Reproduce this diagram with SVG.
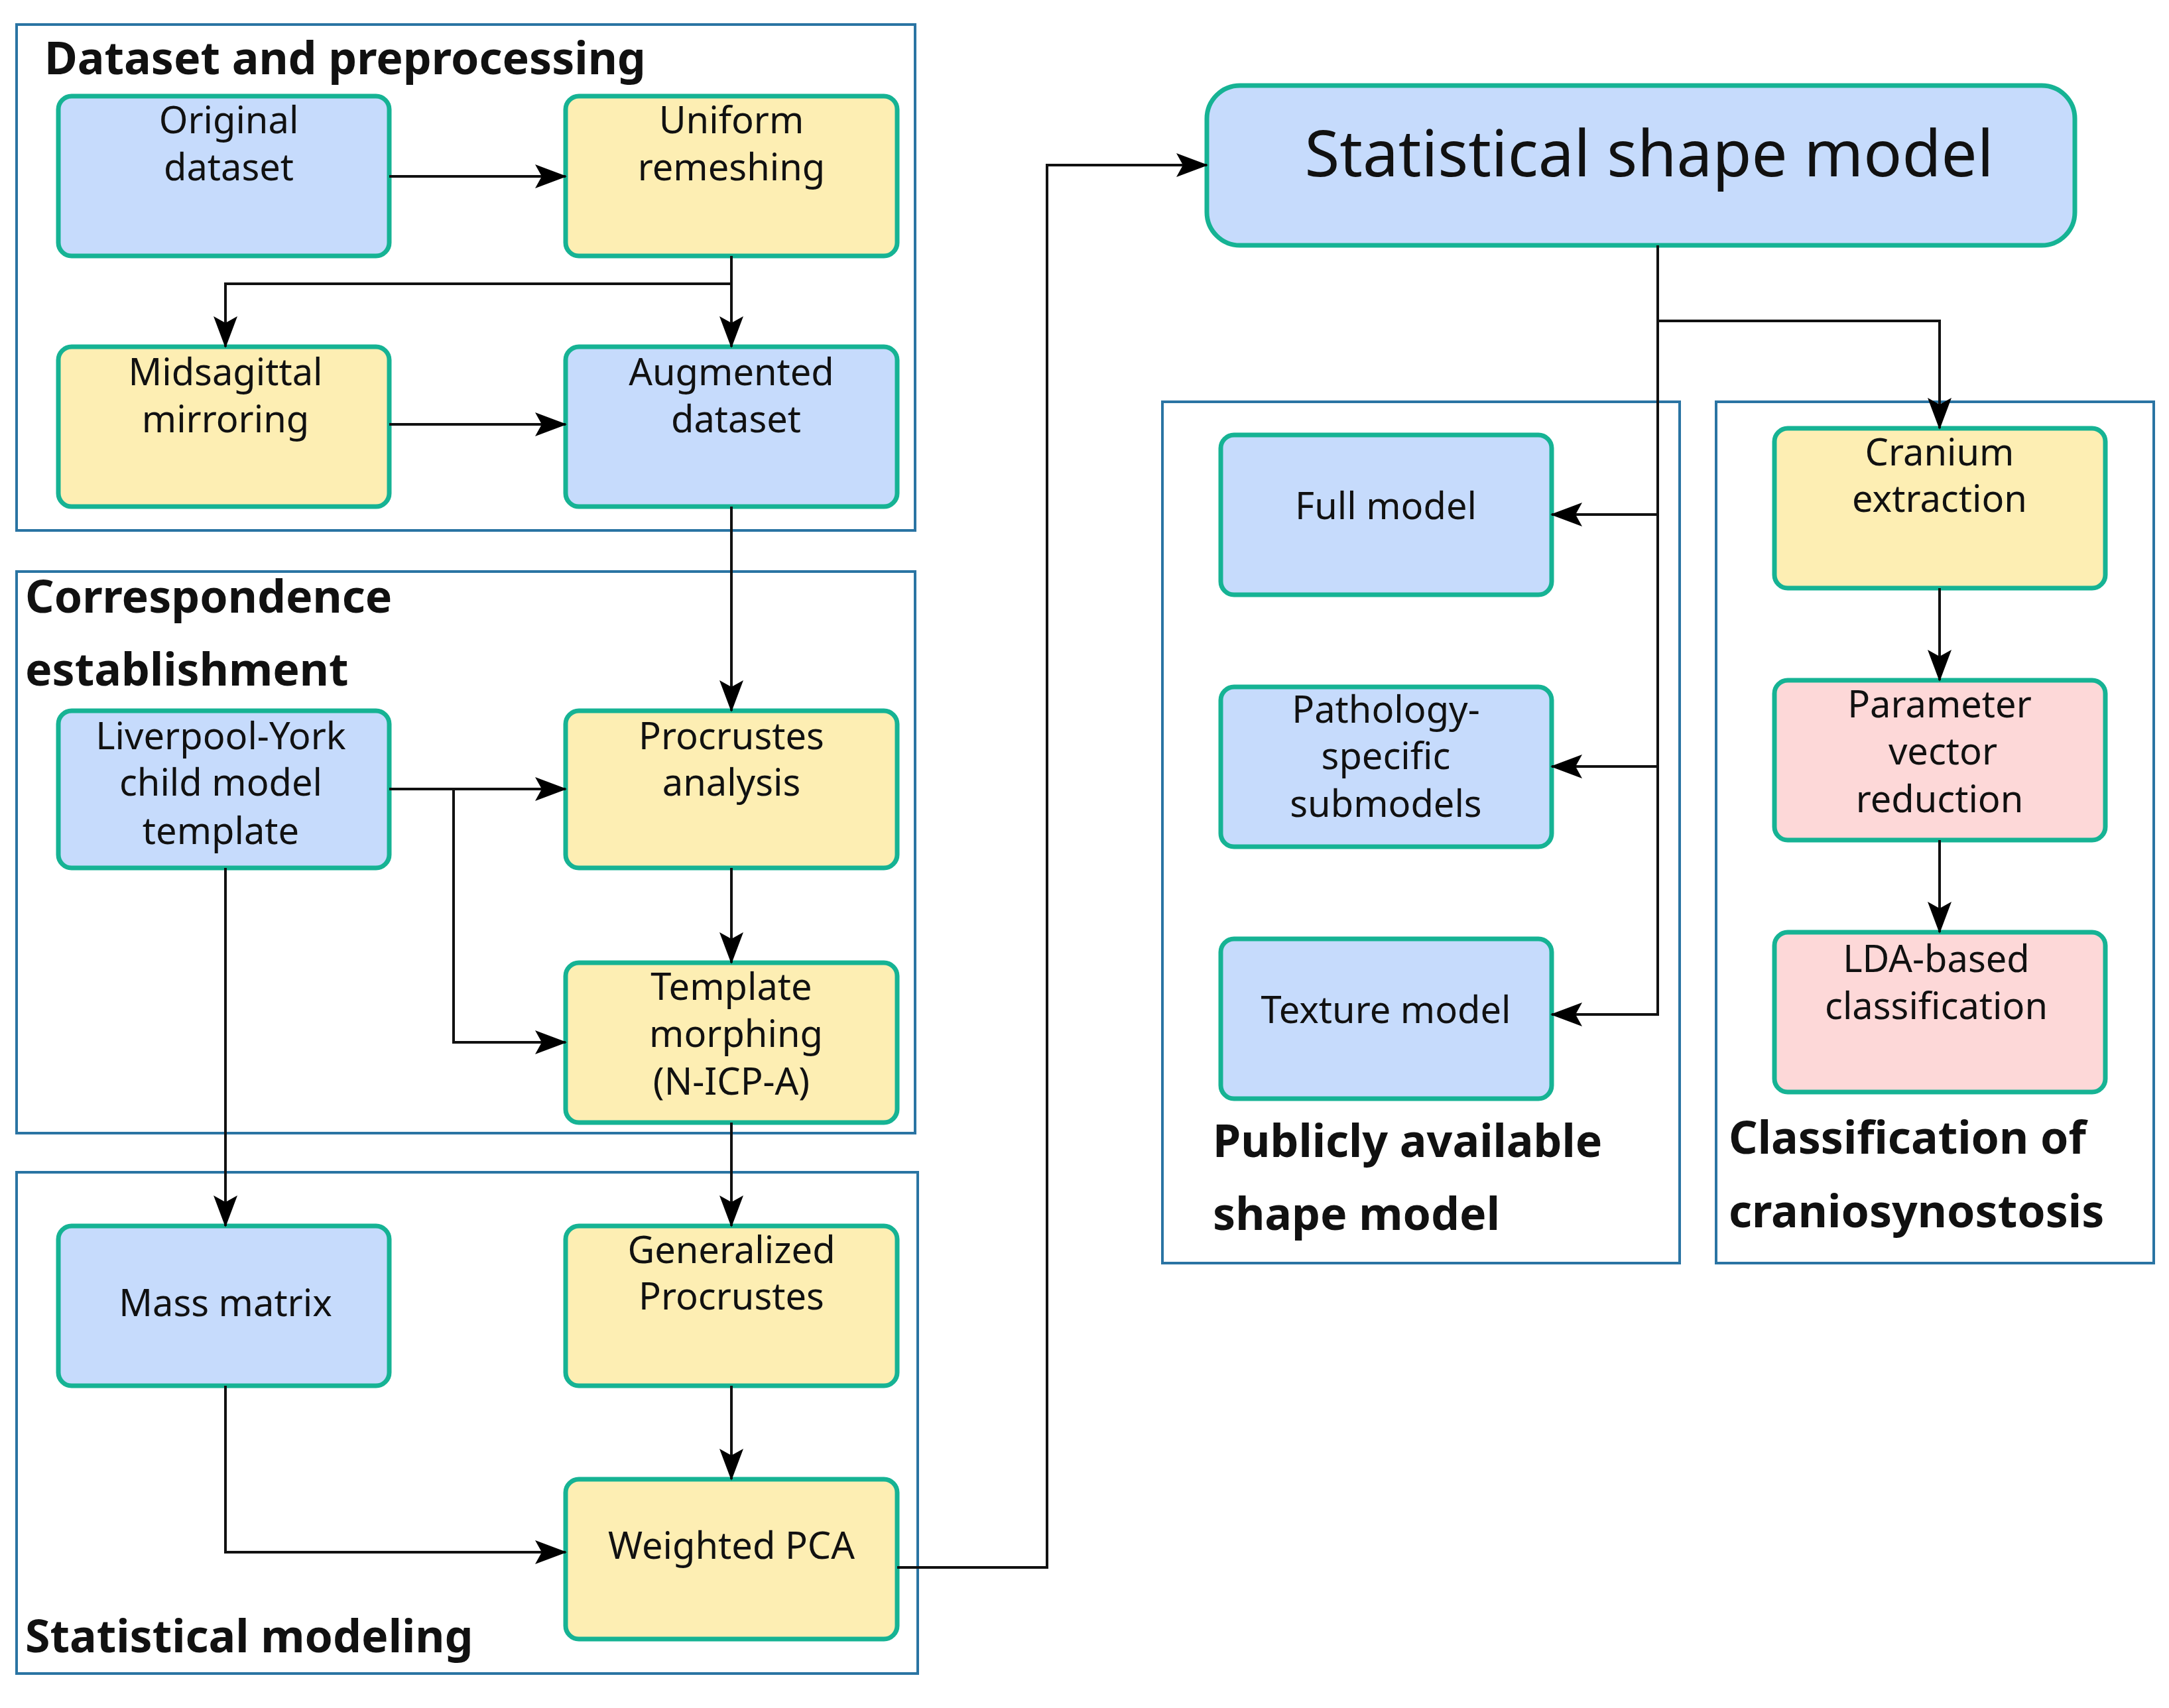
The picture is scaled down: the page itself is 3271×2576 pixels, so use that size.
<svg xmlns="http://www.w3.org/2000/svg" width="3271" height="2576" viewBox="0 0 3271 2576">
<style>
.grp{fill:none;stroke:#2a74a3;stroke-width:4}
.n{stroke:#16b394;stroke-width:7}
.b{fill:#c6dbfc}.y{fill:#fdeeb3}.p{fill:#fdd8d8}
text{font-family:"Noto Sans","Open Sans",sans-serif;fill:#111}
.t{font-size:56px;text-anchor:middle}
.h{font-size:68px;font-weight:bold}
.c{fill:none;stroke:#111;stroke-width:4;marker-end:url(#a)}
</style>
<defs><marker id="a" markerUnits="userSpaceOnUse" markerWidth="48" markerHeight="36" refX="46" refY="18" orient="auto"><path d="M0,0 L48,18 L0,36 L10,18 Z" fill="#000"/></marker></defs>
<rect width="3271" height="2576" fill="#fff"/>
<g id="g-dataset"><rect class="grp" x="25" y="37" width="1355" height="763"/><text class="h" x="67" y="112">Dataset and preprocessing</text></g>
<g id="g-corr"><rect class="grp" x="25" y="862" width="1355" height="847"/><text class="h" x="38" y="924">Correspondence</text><text class="h" x="38" y="1034">establishment</text></g>
<g id="g-stat"><rect class="grp" x="25" y="1768" width="1359" height="756"/><text class="h" x="38" y="2492">Statistical modeling</text></g>
<g id="g-public"><rect class="grp" x="1753" y="606" width="780" height="1299"/><text class="h" x="1829" y="1745">Publicly available</text><text class="h" x="1829" y="1855">shape model</text></g>
<g id="g-class"><rect class="grp" x="2588" y="606" width="660" height="1299"/><text class="h" x="2607" y="1740">Classification of</text><text class="h" x="2607" y="1851">craniosynostosis</text></g>

<g id="original"><rect class="n b" x="88" y="145" width="499" height="241" rx="20"/><text class="t" x="345" y="201">Original</text><text class="t" x="345" y="272">dataset</text></g>
<g id="uniform"><rect class="n y" x="853" y="145" width="500" height="241" rx="20"/><text class="t" x="1103" y="201">Uniform</text><text class="t" x="1103" y="272">remeshing</text></g>
<g id="midsagittal"><rect class="n y" x="88" y="523" width="499" height="241" rx="20"/><text class="t" x="340" y="581">Midsagittal</text><text class="t" x="340" y="652">mirroring</text></g>
<g id="augmented"><rect class="n b" x="853" y="523" width="500" height="241" rx="20"/><text class="t" x="1103" y="581">Augmented</text><text class="t" x="1110" y="652">dataset</text></g>
<g id="liverpool"><rect class="n b" x="88" y="1072" width="499" height="237" rx="20"/><text class="t" x="333" y="1130">Liverpool-York</text><text class="t" x="333" y="1200">child model</text><text class="t" x="333" y="1273">template</text></g>
<g id="procrustes"><rect class="n y" x="853" y="1072" width="500" height="237" rx="20"/><text class="t" x="1103" y="1130">Procrustes</text><text class="t" x="1103" y="1200">analysis</text></g>
<g id="template"><rect class="n y" x="853" y="1452" width="500" height="241" rx="20"/><text class="t" x="1103" y="1508">Template</text><text class="t" x="1110" y="1579">morphing</text><text class="t" x="1103" y="1651">(N-ICP-A)</text></g>
<g id="mass"><rect class="n b" x="88" y="1849" width="499" height="241" rx="20"/><text class="t" x="340" y="1985">Mass matrix</text></g>
<g id="generalized"><rect class="n y" x="853" y="1849" width="500" height="241" rx="20"/><text class="t" x="1103" y="1905">Generalized</text><text class="t" x="1103" y="1975">Procrustes</text></g>
<g id="wpca"><rect class="n y" x="853" y="2231" width="500" height="241" rx="20"/><text class="t" x="1103" y="2351">Weighted PCA</text></g>
<g id="ssm"><rect class="n b" x="1820" y="129" width="1309" height="241" rx="50"/><text x="2487" y="266" font-size="96" text-anchor="middle">Statistical shape model</text></g>
<g id="full"><rect class="n b" x="1841" y="656" width="499" height="241" rx="20"/><text class="t" x="2090" y="783">Full model</text></g>
<g id="pathology"><rect class="n b" x="1841" y="1036" width="499" height="241" rx="20"/><text class="t" x="2090" y="1090">Pathology-</text><text class="t" x="2090" y="1160">specific</text><text class="t" x="2090" y="1232">submodels</text></g>
<g id="texture"><rect class="n b" x="1841" y="1416" width="499" height="241" rx="20"/><text class="t" x="2090" y="1543">Texture model</text></g>
<g id="cranium"><rect class="n y" x="2676" y="646" width="499" height="241" rx="20"/><text class="t" x="2925" y="702">Cranium</text><text class="t" x="2925" y="772">extraction</text></g>
<g id="parameter"><rect class="n p" x="2676" y="1026" width="499" height="241" rx="20"/><text class="t" x="2925" y="1082">Parameter</text><text class="t" x="2930" y="1153">vector</text><text class="t" x="2925" y="1225">reduction</text></g>
<g id="lda"><rect class="n p" x="2676" y="1406" width="499" height="241" rx="20"/><text class="t" x="2920" y="1466">LDA-based</text><text class="t" x="2920" y="1537">classification</text></g>

<g id="connectors">
<path class="c" d="M587,266 H853"/>
<path class="c" d="M1103,386 V523"/>
<path class="c" d="M1103,428 H340 V523"/>
<path class="c" d="M587,640 H853"/>
<path class="c" d="M1103,764 V1072"/>
<path class="c" d="M587,1190 H853"/>
<path class="c" d="M684,1190 V1572 H853"/>
<path class="c" d="M1103,1309 V1452"/>
<path class="c" d="M340,1309 V1849"/>
<path class="c" d="M1103,1693 V1849"/>
<path class="c" d="M1103,2090 V2231"/>
<path class="c" d="M340,2090 V2341 H853"/>
<path class="c" d="M1353,2364 H1579 V249 H1820"/>
<path class="c" d="M2500,370 V1530 H2340"/>
<path class="c" d="M2500,776 H2340"/>
<path class="c" d="M2500,1156 H2340"/>
<path class="c" d="M2500,484 H2925 V646"/>
<path class="c" d="M2925,887 V1026"/>
<path class="c" d="M2925,1267 V1406"/>
</g>
</svg>
